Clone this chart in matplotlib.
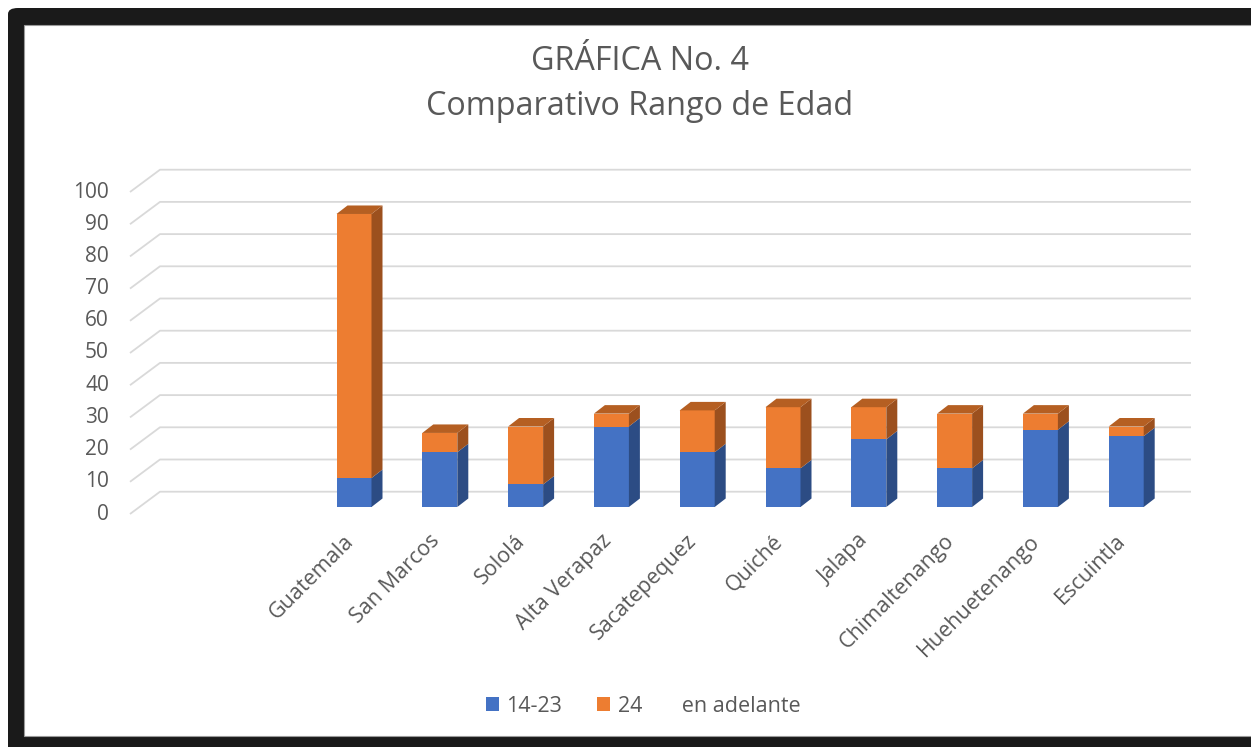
import matplotlib
matplotlib.use("Agg")
import matplotlib.pyplot as plt
from matplotlib.patches import Polygon, Rectangle, FancyBboxPatch, Patch

plt.rcParams['font.family'] = ['Open Sans', 'DejaVu Sans']

categories = ["Guatemala", "San Marcos", "Sololá", "Alta Verapaz", "Sacatepequez",
              "Quiché", "Jalapa", "Chimaltenango", "Huehuetenango", "Escuintla"]
edad_14_23 = [9, 17, 7, 25, 17, 12, 21, 12, 24, 22]
edad_24_mas = [82, 6, 18, 4, 13, 19, 10, 17, 5, 3]
y_ticks = [0, 10, 20, 30, 40, 50, 60, 70, 80, 90, 100]
series_labels = ["14-23", "24       en adelante"]
title = "GRÁFICA No. 4\nComparativo Rango de Edad"

blue, blue_side = "#4472c4", "#2c4c84"
orange, orange_side, orange_top = "#ed7d31", "#9c501e", "#b55f22"
grid_c = "#d9d9d9"
text_c = "#595959"

W, H = 1251, 747
fig = plt.figure(figsize=(W / 100, H / 100), dpi=100)
fig.patch.set_facecolor("white")

# black frame (cropped on the right / bottom)
fig.add_artist(FancyBboxPatch((8 / W, -30 / H), 1300 / W, (739 + 30) / H,
                              boxstyle="round,pad=0,rounding_size=0.008",
                              transform=fig.transFigure, facecolor="#1a1a1a",
                              edgecolor="none", zorder=-10))
fig.add_artist(Rectangle((24.5 / W, 11 / H), 1300 / W, (722 - 11) / H,
                         transform=fig.transFigure, facecolor="white",
                         edgecolor="#9a9a9a", linewidth=0.8, zorder=-9))

# axes: pixel mapping x=354+85.8*i, y=507-3.22*v
px_x, px_y = 85.8, 3.22
L, R, T, B = 60, 1220, 150, 530
ax = fig.add_axes([L / W, 1 - B / H, (R - L) / W, (B - T) / H])
ax.set_xlim((L - 354) / px_x, (R - 354) / px_x)
ax.set_ylim(-(B - 507) / px_y, (507 - T) / px_y)
ax.axis("off")

# perspective offsets (data units)
DX, DY = 30 / px_x, 22.3 / px_y          # full floor depth
fy = -7 / px_y                             # front plane relative to bar front
by = fy + DY                               # back plane
XL, XR = (160 - 354) / px_x, (1191 - 354) / px_x
bdx, bdy = 11 / px_x, 8.5 / px_y           # bar depth
w = 35 / px_x

for v in y_ticks:
    ax.plot([XL - DX, XL, XR], [v + fy, v + by, v + by], color=grid_c,
            lw=1.3, solid_capstyle="butt", zorder=1)
    ax.text(XL - DX - 0.245, v + fy, str(v), ha="right", va="center",
            fontsize=15, color=text_c)

xs = list(range(len(categories)))
ax.bar(xs, edad_14_23, width=w, color=blue, zorder=3)
ax.bar(xs, edad_24_mas, width=w, bottom=edad_14_23, color=orange, zorder=3)

for x, a, b in zip(xs, edad_14_23, edad_24_mas):
    xr = x + w / 2
    for lo, hi, c in [(0, a, blue_side), (a, a + b, orange_side)]:
        ax.add_patch(Polygon([(xr, lo), (xr + bdx, lo + bdy), (xr + bdx, hi + bdy), (xr, hi)],
                             closed=True, facecolor=c, edgecolor="none", zorder=3))
    top = a + b
    ax.add_patch(Polygon([(x - w / 2, top), (x - w / 2 + bdx, top + bdy),
                          (xr + bdx, top + bdy), (xr, top)],
                         closed=True, facecolor=orange_top, edgecolor="none", zorder=3))

for x, name in zip(xs, categories):
    ax.text(x - 0.04, -(538 - 507) / px_y, name, rotation=45, rotation_mode="anchor",
            ha="right", va="center", fontsize=15.5, color=text_c, clip_on=False)

fig.text(640 / W, 1 - 84 / H, title, ha="center", va="center", fontsize=23.3,
         color=text_c, linespacing=1.45)

handles = [Patch(facecolor=blue, edgecolor="none"), Patch(facecolor=orange, edgecolor="none")]
fig.legend(handles, series_labels, loc="center", bbox_to_anchor=(643 / W, 1 - 706 / H),
           ncol=2, frameon=False, fontsize=15.5, labelcolor=text_c,
           handlelength=0.62, handleheight=0.62, handletextpad=0.35, columnspacing=1.6)

fig.savefig("out.png", dpi=100)
